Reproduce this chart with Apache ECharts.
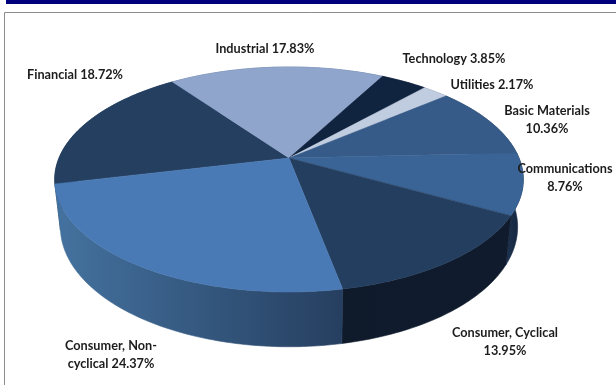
<!DOCTYPE html>
<html>
<head>
<meta charset="utf-8">
<style>html,body{margin:0;padding:0;background:#fff}#chart{width:616px;height:385px}</style>
<script src="https://cdn.jsdelivr.net/npm/echarts@6/dist/echarts.min.js"></script>
</head>
<body>
<div id="chart"></div>
<script>
// Sector weights, percent, clockwise from the Financial slice
const categories = ['Financial', 'Industrial', 'Technology', 'Utilities', 'Basic Materials',
  'Communications', 'Consumer, Cyclical', 'Consumer, Non-\ncyclical'];
const weights = [18.72, 17.83, 3.85, 2.17, 10.36, 8.76, 13.95, 24.37];
const labelBreaks = [' ', ' ', ' ', ' ', '\n', '\n', '\n', ' '];

// Slice colours
const topColors = ['#243f60', '#8fa5cc', '#10233f', '#c0cce0', '#365b88', '#3a6496', '#243e60', '#4a7ab5'];
const wallColors = [
  ['#243f60', '#243f60'], ['#5a7096', '#5a7096'], ['#10233f', '#10233f'], ['#8090a8', '#8090a8'],
  ['#24405f', '#24405f'], ['#1d3350', '#14233a'], ['#0f1b2b', '#101c2e'], ['#44729f', '#263f60']
];

// Label anchors in page pixels
const labelAnchors = [[75, 75], [265, 49], [454, 59], [492, 85], [547, 120], [565, 178], [505, 342], [111, 355]];

// Perspective projection of the disc: x = cx + f*u/(1-k*v), y = cy + g*v/(1-k*v)
const topDisc = { cx: 289, cy: 158, f: 230, g: 108.4, k: 0.191 };
const baseDisc = { cx: 289, cy: 203, f: 224, g: 115, k: 0.2 };
const firstAngle = 166.8;

const total = weights.reduce((a, b) => a + b, 0);
const spans = [];
weights.reduce((acc, w) => {
  spans.push([acc, acc + w]);
  return acc + w;
}, 0);

function project(deg, d) {
  const t = deg * Math.PI / 180, u = Math.cos(t), v = Math.sin(t), s = 1 - d.k * v;
  return [d.cx + d.f * u / s, d.cy + d.g * v / s];
}
function arc(a0, a1, d) {
  const n = Math.max(2, Math.ceil(Math.abs(a1 - a0)));
  const pts = [];
  for (let i = 0; i <= n; i++) pts.push(project(a0 + (a1 - a0) * i / n, d));
  return pts;
}
function angles(api) {
  return [firstAngle + api.value(0) / total * 360, firstAngle + api.value(1) / total * 360];
}

const renderWall = (params, api) => {
  const [a0, a1] = angles(api);
  const top = arc(a0, a1, topDisc), base = arc(a0, a1, baseDisc).reverse();
  const xs = top.concat(base).map(p => p[0]);
  const c = wallColors[params.dataIndex];
  const paint = {
    type: 'linear', global: true,
    x: Math.min(...xs), y: 0, x2: Math.max(...xs), y2: 0,
    colorStops: [{ offset: 0, color: c[0] }, { offset: 1, color: c[1] }]
  };
  return {
    type: 'polygon',
    shape: { points: top.concat(base) },
    style: { fill: paint, stroke: paint, lineWidth: 0.6 }
  };
};
const renderTop = (params, api) => {
  const [a0, a1] = angles(api);
  const pts = [[topDisc.cx, topDisc.cy]].concat(arc(a0, a1, topDisc));
  const fill = topColors[params.dataIndex];
  return { type: 'polygon', shape: { points: pts }, style: { fill, stroke: fill, lineWidth: 0.5 } };
};
const renderLabel = (params) => {
  const i = params.dataIndex;
  return {
    type: 'text',
    style: {
      text: categories[i] + labelBreaks[i] + weights[i].toFixed(2) + '%',
      x: labelAnchors[i][0], y: labelAnchors[i][1],
      align: 'center', verticalAlign: 'middle',
      font: 'bold 12.7px Lato', lineHeight: 17.5, fill: '#1c1c1c'
    }
  };
};

const base = { type: 'custom', coordinateSystem: 'none', data: spans, silent: true, animation: false };
const chart = echarts.init(document.getElementById('chart'), null, { renderer: 'canvas' });
chart.setOption({
  backgroundColor: '#ffffff',
  animation: false,
  graphic: [
    { type: 'rect', z: 0, shape: { x: 6, y: 0, width: 610, height: 4 }, style: { fill: '#00007f' } },
    { type: 'polyline', z: 0, shape: { points: [[4.5, 385], [4.5, 12.5], [616, 12.5]] },
      style: { fill: null, stroke: '#8c8c8c', lineWidth: 1 } }
  ],
  series: [
    Object.assign({}, base, { z: 2, renderItem: renderWall }),
    Object.assign({}, base, { z: 3, renderItem: renderTop }),
    Object.assign({}, base, { z: 4, renderItem: renderLabel })
  ]
});
</script>
</body>
</html>
